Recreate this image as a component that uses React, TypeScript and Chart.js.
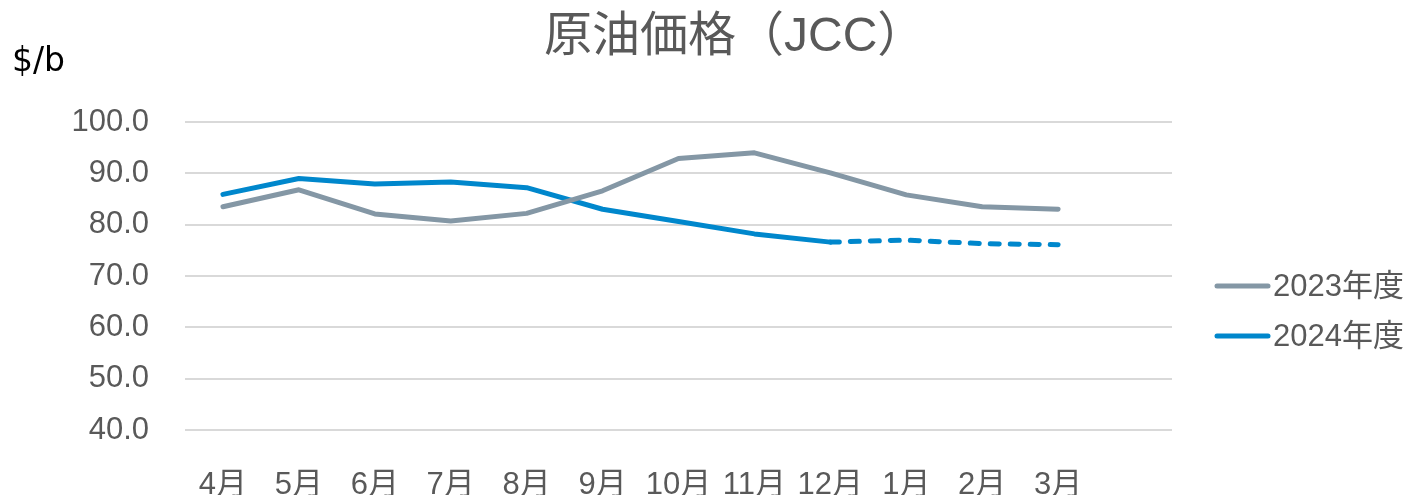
import React, { useEffect, useRef } from 'react';
import { Chart, registerables } from 'chart.js';

Chart.register(...registerables);

const FONT = "'Liberation Sans', Arial, 'Noto Sans CJK JP', sans-serif";

const chartTitle = '原油価格（JCC）';
const unitLabel = '$/b';
const months = ['4月', '5月', '6月', '7月', '8月', '9月', '10月', '11月', '12月', '1月', '2月', '3月', ''];
const fy2023 = [83.5, 86.8, 82.1, 80.7, 82.2, 86.6, 92.9, 94.0, 90.1, 85.8, 83.5, 83.0];
const fy2024 = [85.9, 89.0, 87.9, 88.3, 87.2, 83.0, 80.6, 78.2, 76.6, 77.0, 76.3, 76.1];
const seriesNames = ['2023年度', '2024年度'];
const yMin = 40;
const yMax = 100;
const yStep = 10;
const forecastFrom = 8; // index of 12月: dashed afterwards

const overlay = {
  id: 'overlay',
  afterDraw(chart: any) {
    const ctx = chart.ctx as CanvasRenderingContext2D;
    ctx.save();
    ctx.fillStyle = '#595959';
    ctx.font = `48px ${FONT}`;
    ctx.textAlign = 'left';
    ctx.textBaseline = 'alphabetic';
    ctx.fillText(chartTitle, 544, 51);

    ctx.fillStyle = '#000000';
    ctx.font = "33px 'DejaVu Sans', 'Noto Sans', sans-serif";
    ctx.fillText(unitLabel, 12, 71);

    chart.data.datasets.forEach((ds: any, i: number) => {
      const y = 286 + i * 50;
      ctx.strokeStyle = ds.borderColor;
      ctx.lineWidth = 5;
      ctx.lineCap = 'round';
      ctx.beginPath();
      ctx.moveTo(1217, y);
      ctx.lineTo(1268, y);
      ctx.stroke();
      ctx.fillStyle = '#595959';
      ctx.font = `31px ${FONT}`;
      ctx.textBaseline = 'middle';
      ctx.fillText(ds.label, 1273, y + 1);
    });
    ctx.restore();
  },
};

export default function App() {
  const ref = useRef<HTMLCanvasElement>(null);
  useEffect(() => {
    if (!ref.current) return;
    const chart = new Chart(ref.current, {
      type: 'line',
      data: {
        labels: months,
        datasets: [
          {
            label: seriesNames[0],
            data: fy2023,
            borderColor: '#8497A5',
            backgroundColor: '#8497A5',
            borderWidth: 5,
            pointRadius: 0,
            tension: 0,
            borderCapStyle: 'round',
            borderJoinStyle: 'round',
          },
          {
            label: seriesNames[1],
            data: fy2024,
            borderColor: '#0087CC',
            backgroundColor: '#0087CC',
            borderWidth: 5,
            pointRadius: 0,
            tension: 0,
            borderCapStyle: 'round',
            borderJoinStyle: 'round',
            segment: {
              borderDash: (ctx: any) => (ctx.p0DataIndex >= forecastFrom ? [9, 11] : undefined),
            },
          },
        ],
      },
      options: {
        responsive: false,
        animation: false,
        devicePixelRatio: 1,
        layout: { padding: { top: 122, right: 240, bottom: 0, left: 0 } },
        plugins: {
          legend: { display: false },
          title: { display: false },
          tooltip: { enabled: false },
        },
        scales: {
          x: {
            offset: true,
            grid: { display: false },
            border: { display: false },
            afterFit: (scale: any) => {
              scale.height = 65;
            },
            ticks: {
              autoSkip: false,
              maxRotation: 0,
              padding: 29,
              color: '#595959',
              font: { family: FONT, size: 31 },
            },
          },
          y: {
            min: yMin,
            max: yMax,
            afterFit: (scale: any) => {
              scale.width = 185;
            },
            grid: { color: '#D9D9D9', lineWidth: 2, drawTicks: false },
            border: { display: false },
            ticks: {
              stepSize: yStep,
              padding: 36,
              color: '#595959',
              font: { family: FONT, size: 31 },
              callback: (v: any) => Number(v).toFixed(1),
            },
          },
        },
      },
      plugins: [overlay],
    });
    return () => chart.destroy();
  }, []);
  return (
    <div style={{ position: 'absolute', left: 0, top: 0, width: 1412, height: 495 }}>
      <canvas ref={ref} width={1412} height={495} />
    </div>
  );
}
